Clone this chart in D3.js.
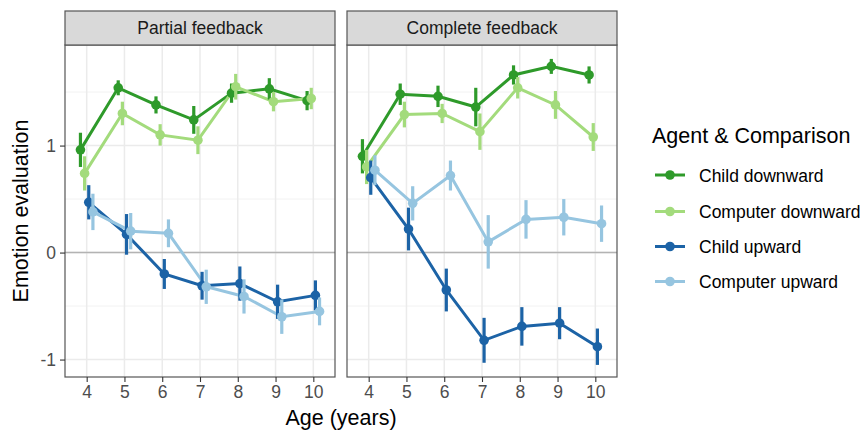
<!DOCTYPE html>
<html>
<head>
<meta charset="utf-8">
<script src="https://cdn.jsdelivr.net/npm/d3@7"></script>
<style>
  body { margin: 0; background: #fff; }
  svg { font-family: "Liberation Sans", Arial, sans-serif; }
</style>
</head>
<body>
<svg id="chart"></svg>
<script>
// Chart size
const width = 867, height = 432;

// Data
const ages = [4, 5, 6, 7, 8, 9, 10];
const panels = ["Partial feedback", "Complete feedback"];
const groups = ["Child downward", "Computer downward", "Child upward", "Computer upward"];
const groupColors = ["#2e9a2a", "#a3db7c", "#1c63a6", "#96c5e0"];

// mean values, one array per panel & group
const partialChildDown  = [0.96, 1.54, 1.38, 1.24, 1.49, 1.53, 1.42];
const partialCompDown   = [0.74, 1.30, 1.10, 1.05, 1.55, 1.41, 1.44];
const partialChildUp    = [0.47, 0.17, -0.20, -0.31, -0.29, -0.46, -0.40];
const partialCompUp     = [0.38, 0.20, 0.18, -0.32, -0.41, -0.60, -0.55];
const completeChildDown = [0.90, 1.48, 1.46, 1.36, 1.66, 1.74, 1.66];
const completeCompDown  = [0.80, 1.29, 1.30, 1.13, 1.54, 1.38, 1.08];
const completeChildUp   = [0.70, 0.22, -0.35, -0.82, -0.69, -0.66, -0.88];
const completeCompUp    = [0.77, 0.46, 0.72, 0.10, 0.31, 0.33, 0.27];

// half-length of error bars
const partialChildDownErr  = [0.16, 0.07, 0.08, 0.13, 0.09, 0.10, 0.09];
const partialCompDownErr   = [0.16, 0.11, 0.10, 0.13, 0.12, 0.09, 0.10];
const partialChildUpErr    = [0.16, 0.19, 0.14, 0.13, 0.16, 0.16, 0.14];
const partialCompUpErr     = [0.17, 0.17, 0.13, 0.16, 0.16, 0.16, 0.13];
const completeChildDownErr = [0.16, 0.10, 0.10, 0.18, 0.09, 0.07, 0.08];
const completeCompDownErr  = [0.16, 0.12, 0.09, 0.17, 0.10, 0.13, 0.13];
const completeChildUpErr   = [0.16, 0.20, 0.20, 0.21, 0.18, 0.15, 0.17];
const completeCompUpErr    = [0.14, 0.16, 0.14, 0.25, 0.18, 0.17, 0.17];

const yTicks = [-1, 0, 1];
const yMinor = [-0.5, 0.5, 1.5];

const panelMeans = [
  [partialChildDown, partialCompDown, partialChildUp, partialCompUp],
  [completeChildDown, completeCompDown, completeChildUp, completeCompUp]
];
const panelErrs = [
  [partialChildDownErr, partialCompDownErr, partialChildUpErr, partialCompUpErr],
  [completeChildDownErr, completeCompDownErr, completeChildUpErr, completeCompUpErr]
];

const svg = d3.select("#chart")
  .attr("width", width)
  .attr("height", height);

// panel layout
const panelX = [65, 347], panelW = 270;
const stripTop = 11, panelTop = 45, panelBottom = 377;
const dodge = 0.11;
const smallFont = 17.5, bigFont = 21.5;

const y = d3.scaleLinear()
  .domain([-1.163, 1.94])
  .range([panelBottom, panelTop]);

panels.forEach((title, p) => {
  const x = d3.scaleLinear()
    .domain([3.426, 10.574])
    .range([panelX[p], panelX[p] + panelW]);

  const g = svg.append("g");

  // grid
  g.selectAll(".minor")
    .data(yMinor)
    .join("line")
    .attr("x1", panelX[p]).attr("x2", panelX[p] + panelW)
    .attr("y1", d => y(d)).attr("y2", d => y(d))
    .attr("stroke", "#f2f2f2").attr("stroke-width", 1);
  g.selectAll(".majorY")
    .data(yTicks)
    .join("line")
    .attr("x1", panelX[p]).attr("x2", panelX[p] + panelW)
    .attr("y1", d => y(d)).attr("y2", d => y(d))
    .attr("stroke", "#ebebeb").attr("stroke-width", 1.5);
  g.selectAll(".majorX")
    .data(ages)
    .join("line")
    .attr("x1", d => x(d)).attr("x2", d => x(d))
    .attr("y1", panelTop).attr("y2", panelBottom)
    .attr("stroke", "#ebebeb").attr("stroke-width", 1.5);

  // zero reference line
  g.append("line")
    .attr("x1", panelX[p]).attr("x2", panelX[p] + panelW)
    .attr("y1", y(0)).attr("y2", y(0))
    .attr("stroke", "#b3b3b3").attr("stroke-width", 1.5);

  const series = groups.map((name, i) => ages.map((a, k) => ({
    x: a + dodge * (i - 1.5),
    y: panelMeans[p][i][k],
    e: panelErrs[p][i][k],
    color: groupColors[i]
  })));

  const line = d3.line().x(d => x(d.x)).y(d => y(d.y));

  series.forEach(s => {
    g.append("path")
      .datum(s)
      .attr("d", line)
      .attr("fill", "none")
      .attr("stroke", s[0].color)
      .attr("stroke-width", 3);
  });
  series.forEach(s => {
    g.selectAll(null)
      .data(s)
      .join("line")
      .attr("x1", d => x(d.x)).attr("x2", d => x(d.x))
      .attr("y1", d => y(d.y - d.e)).attr("y2", d => y(d.y + d.e))
      .attr("stroke", d => d.color)
      .attr("stroke-width", 3.2);
    g.selectAll(null)
      .data(s)
      .join("circle")
      .attr("cx", d => x(d.x)).attr("cy", d => y(d.y))
      .attr("r", 4.8)
      .attr("fill", d => d.color);
  });

  // panel border
  g.append("rect")
    .attr("x", panelX[p]).attr("y", panelTop)
    .attr("width", panelW).attr("height", panelBottom - panelTop)
    .attr("fill", "none").attr("stroke", "#555").attr("stroke-width", 1.2);

  // strip
  g.append("rect")
    .attr("x", panelX[p]).attr("y", stripTop)
    .attr("width", panelW).attr("height", panelTop - stripTop)
    .attr("fill", "#d9d9d9").attr("stroke", "#555").attr("stroke-width", 1.2);
  g.append("text")
    .attr("x", panelX[p] + panelW / 2).attr("y", 34)
    .attr("text-anchor", "middle")
    .attr("font-size", smallFont)
    .attr("fill", "#1a1a1a")
    .text(title);

  // x axis
  const xAxis = g.append("g")
    .attr("transform", `translate(0,${panelBottom})`)
    .call(d3.axisBottom(x).tickValues(ages).tickSize(5).tickPadding(4));
  xAxis.select(".domain").remove();
  xAxis.selectAll(".tick line").attr("stroke", "#333").attr("stroke-width", 1.1);
  xAxis.selectAll(".tick text")
    .attr("font-size", smallFont)
    .attr("font-family", "Liberation Sans, Arial, sans-serif")
    .attr("fill", "#4d4d4d");

  // y axis on the first panel only
  if (p === 0) {
    const yAxis = g.append("g")
      .attr("transform", `translate(${panelX[p]},0)`)
      .call(d3.axisLeft(y).tickValues(yTicks).tickFormat(d => String(d)).tickSize(5).tickPadding(4));
    yAxis.select(".domain").remove();
    yAxis.selectAll(".tick line").attr("stroke", "#333").attr("stroke-width", 1.1);
    yAxis.selectAll(".tick text")
      .attr("font-size", smallFont)
      .attr("font-family", "Liberation Sans, Arial, sans-serif")
      .attr("fill", "#4d4d4d");
  }
});

// axis titles
svg.append("text")
  .attr("x", (panelX[0] + panelX[1] + panelW) / 2)
  .attr("y", 425)
  .attr("text-anchor", "middle")
  .attr("font-size", bigFont)
  .attr("fill", "#000")
  .text("Age (years)");

svg.append("text")
  .attr("transform", `translate(28,${(panelTop + panelBottom) / 2}) rotate(-90)`)
  .attr("text-anchor", "middle")
  .attr("font-size", bigFont)
  .attr("fill", "#000")
  .text("Emotion evaluation");

// legend
const legend = svg.append("g").attr("transform", "translate(652,0)");
legend.append("text")
  .attr("x", 0).attr("y", 143)
  .attr("font-size", bigFont)
  .text("Agent & Comparison");

const legendY = [175, 211.5, 246.5, 281.5];
groups.forEach((name, i) => {
  const row = legend.append("g").attr("transform", `translate(0,${legendY[i]})`);
  row.append("line")
    .attr("x1", 3).attr("x2", 33)
    .attr("stroke", groupColors[i]).attr("stroke-width", 3);
  row.append("circle")
    .attr("cx", 18).attr("r", 4.8)
    .attr("fill", groupColors[i]);
  row.append("text")
    .attr("x", 47).attr("y", 6.5)
    .attr("font-size", smallFont)
    .attr("fill", "#000")
    .text(name);
});
</script>
</body>
</html>
